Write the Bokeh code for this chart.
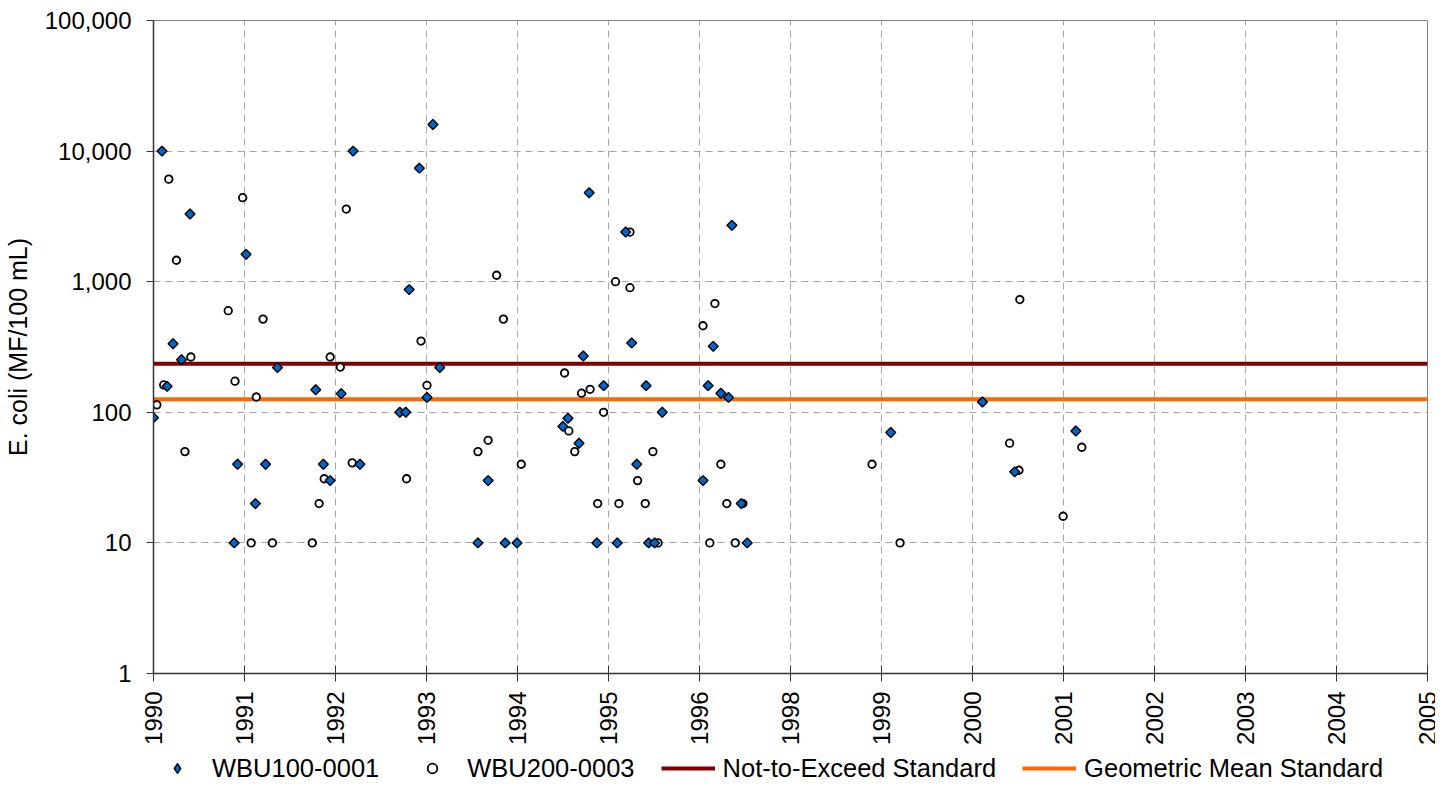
import math
from bokeh.plotting import figure
from bokeh.layouts import column
from bokeh.models import Range1d, FixedTicker, Legend, LegendItem, NumeralTickFormatter
from bokeh.embed import file_html
from bokeh.resources import INLINE

FONT = "Liberation Sans"

# ---- data ----
x_tick_labels = ["1990", "1991", "1992", "1993", "1994", "1995", "1996", "1998",
                 "1999", "2000", "2001", "2002", "2003", "2004", "2005"]
y_ticks = [1, 10, 100, 1000, 10000, 100000]

# WBU100-0001 (diamonds): decimal year, E. coli MF/100 mL
wbu100_year = [1990.00, 1990.10, 1990.16, 1990.23, 1990.33, 1990.43, 1990.95, 1990.99,
               1991.09, 1991.20, 1991.32, 1991.46, 1991.91, 1992.00, 1992.08, 1992.21,
               1992.35, 1992.43, 1992.90, 1992.97, 1993.01, 1993.13, 1993.22, 1993.29,
               1993.37, 1993.82, 1993.94, 1994.14, 1994.28, 1994.82, 1994.88, 1995.01,
               1995.06, 1995.13, 1995.22, 1995.30, 1995.46, 1995.56, 1995.63, 1995.69,
               1995.80, 1995.83, 1995.90, 1995.99, 1996.47, 1996.53, 1996.59, 1996.68,
               1996.77, 1996.81, 1996.92, 1996.99, 1998.68, 1999.76, 2000.14, 2000.86]
wbu100_val = [91, 10000, 158, 335, 253, 3300, 10, 40,
              1620, 20, 40, 220, 149, 40, 30, 139,
              10000, 40, 100, 100, 870, 7400, 130, 16000,
              220, 10, 30, 10, 10, 78, 90, 58,
              270, 4800, 10, 160, 10, 2400, 340, 40,
              160, 10, 10, 100, 30, 160, 320, 140,
              130, 2700, 20, 10, 70, 120, 35, 72]

# WBU200-0003 (circles)
wbu200_year = [1990.04, 1990.12, 1990.18, 1990.27, 1990.37, 1990.44, 1990.88, 1990.96,
               1991.05, 1991.15, 1991.21, 1991.29, 1991.40, 1991.87, 1991.95, 1992.01,
               1992.08, 1992.20, 1992.27, 1992.34, 1992.98, 1993.15, 1993.22, 1993.82,
               1993.94, 1994.04, 1994.12, 1994.33, 1994.84, 1994.89, 1994.96, 1995.04,
               1995.14, 1995.23, 1995.30, 1995.44, 1995.48, 1995.61, 1995.61, 1995.70,
               1995.79, 1995.88, 1995.94, 1996.47, 1996.55, 1996.61, 1996.68, 1996.75,
               1996.85, 1996.94, 1998.46, 1998.79, 2000.08, 2000.19, 2000.20, 2000.71,
               2000.93]
wbu200_val = [114, 162, 6100, 1460, 50, 265, 600, 173,
              4400, 10, 131, 517, 10, 10, 20, 31,
              265, 222, 3600, 41, 31, 351, 161, 50,
              61, 1120, 517, 40, 200, 72, 50, 140,
              150, 20, 100, 1000, 20, 2400, 900, 30,
              20, 50, 10, 460, 10, 680, 40, 20,
              10, 20, 40, 10, 58, 36, 730, 16,
              54]

not_to_exceed = 235
geometric_mean = 126
x_start, x_end = 1990.0, 2005.0

series_labels = ["WBU100-0001", "WBU200-0003", "Not-to-Exceed Standard", "Geometric Mean Standard"]

# ---- styles ----
DIAMOND = dict(marker="square", angle=math.pi / 4, size=7, fill_color="#0066CC",
               line_color="black", line_width=1.4)
DIAMOND_LEGEND = dict(marker="diamond", size=10, fill_color="#0066CC",
                      line_color="black", line_width=1.4)
CIRCLE = dict(marker="circle", size=7.5, fill_color="white", line_color="black",
              line_width=1.8)
NTE = dict(line_color="#800000", line_width=4)
GM = dict(line_color="#FF6600", line_width=4)


def draw_series(fig, diamond_style):
    r_n = fig.line([x_start, x_end], [not_to_exceed, not_to_exceed], **NTE)
    r_g = fig.line([x_start, x_end], [geometric_mean, geometric_mean], **GM)
    r_c = fig.scatter(wbu200_year, wbu200_val, **CIRCLE)
    r_d = fig.scatter(wbu100_year, wbu100_val, **diamond_style)
    return r_d, r_c, r_n, r_g


# ---- main figure ----
n = len(x_tick_labels)
x_ticks = [x_start + i * (x_end - x_start) / (n - 1) for i in range(n)]

p = figure(frame_width=1274, frame_height=653,
           x_range=Range1d(x_start, x_end), y_range=Range1d(1, 100000),
           y_axis_type="log", output_backend="svg", toolbar_location=None,
           min_border_left=146, min_border_right=8, min_border_top=20,
           min_border_bottom=72, background_fill_color="white",
           border_fill_color="white")

p.outline_line_color = "#808080"
p.outline_line_width = 1

p.xgrid.ticker = FixedTicker(ticks=x_ticks)
p.ygrid.ticker = FixedTicker(ticks=y_ticks)
for g in (p.xgrid, p.ygrid):
    g.grid_line_color = "#a6a6a6"
    g.grid_line_dash = "7 5"
    g.grid_line_width = 1

xa = p.xaxis[0]
xa.axis_label = None
xa.ticker = FixedTicker(ticks=x_ticks)
xa.formatter = NumeralTickFormatter(format="0")
xa.major_label_overrides = {t: lab for t, lab in zip(x_ticks, x_tick_labels)}
xa.major_label_orientation = math.pi / 2
xa.major_tick_in = 8
xa.major_tick_out = 8
xa.minor_tick_line_color = None
xa.major_label_standoff = 10

ya = p.yaxis[0]
ya.ticker = FixedTicker(ticks=y_ticks)
ya.formatter = NumeralTickFormatter(format="0,0")
ya.major_tick_in = 0
ya.major_tick_out = 7
ya.minor_tick_line_color = None
ya.major_label_standoff = 15
ya.axis_label = "E. coli (MF/100 mL)"
ya.axis_label_standoff = 10
ya.axis_label_text_font_style = "normal"

for ax in (xa, ya):
    ax.axis_line_color = "#333333"
    ax.axis_line_width = 1.5
    ax.major_tick_line_color = "#333333"
    ax.major_tick_line_width = 1
    ax.major_label_text_font = FONT
    ax.major_label_text_font_size = "24px"
    ax.major_label_text_color = "black"
    ax.axis_label_text_font = FONT
    ax.axis_label_text_font_size = "25px"
    ax.axis_label_text_color = "black"

draw_series(p, DIAMOND)

# ---- legend strip (separate figure below the chart; its own ranges keep the
# series out of view so only the legend samples show) ----
lf = figure(width=1428, height=37, output_backend="svg", toolbar_location=None,
            x_range=Range1d(0, 1), y_range=Range1d(0, 1),
            min_border_left=0, min_border_right=0, min_border_top=0, min_border_bottom=0,
            background_fill_color="white", border_fill_color="white")
lf.axis.visible = False
lf.grid.visible = False
lf.outline_line_color = None
leg_renderers = draw_series(lf, DIAMOND_LEGEND)

legend = Legend(items=[LegendItem(label=lab, renderers=[r])
                       for lab, r in zip(series_labels, leg_renderers)],
                orientation="horizontal", location=(-3, 1.5))
legend.label_text_font = FONT
legend.label_text_font_size = "25.5px"
legend.label_text_color = "black"
legend.label_height = 28
legend.glyph_width = 54
legend.glyph_height = 24
legend.label_standoff = 8
legend.spacing = 26
legend.padding = 0
legend.margin = 0
legend.border_line_color = None
legend.background_fill_alpha = 0
lf.add_layout(legend, "center")

layout = column(p, lf, spacing=0)
open("out.html", "w").write(file_html(layout, INLINE))
